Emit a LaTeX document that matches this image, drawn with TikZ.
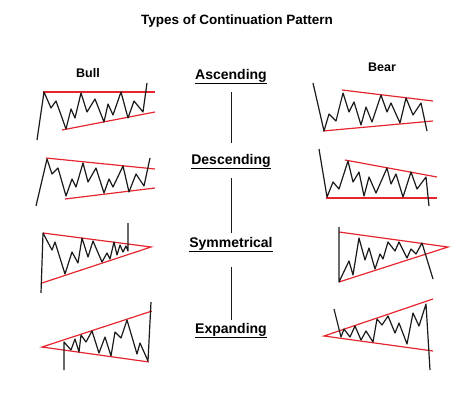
\documentclass[tikz,border=0pt]{standalone}
\usepackage{fontspec}
\setmainfont{Liberation Sans}
\definecolor{trendred}{HTML}{E5262F}
\definecolor{pricedark}{HTML}{1A1A1A}
\tikzset{
  heading/.style={font=\bfseries\fontsize{13.5}{16}\selectfont,anchor=base,inner sep=0pt},
  side/.style={font=\bfseries\fontsize{12.5}{15}\selectfont,anchor=base,inner sep=0pt},
  kind/.style={font=\bfseries\fontsize{14}{17}\selectfont,anchor=base,inner sep=0pt},
  link/.style={line width=1pt,pricedark},
  trend/.style={line width=1.2pt,trendred},
  price/.style={line width=1.2pt,pricedark,line join=round}
}

\begin{document}
\begin{tikzpicture}[x=1pt,y=-1pt]
  \useasboundingbox (0,0) rectangle (474,405);

  \node[heading] (title) at (237,24) {Types of Continuation Pattern};
  \node[side] (bull) at (88,77) {Bull};
  \node[side] (bear) at (382,71) {Bear};

  \node[kind] (asc) at (231,79) {\underline{Ascending}};
  \node[kind] (desc) at (231,164) {\underline{Descending}};
  \node[kind] (sym) at (231,247) {\underline{Symmetrical}};
  \node[kind] (exp) at (231,333) {\underline{Expanding}};

  \draw[link,shorten <=8pt,shorten >=11pt] (asc) -- (desc);
  \draw[link,shorten <=9pt,shorten >=4pt] (desc) -- (sym);
  \draw[link,shorten <=15pt,shorten >=3pt] (sym) -- (exp);

  % ascending
  \draw[trend] (43,92) -- (155,92);
  \draw[trend] (62,130) -- (155,112);
  \draw[price] (37,140) -- (44,92) -- (51,108) -- (56,101) -- (66,129) -- (71,109) -- (75,118) -- (81,93) -- (87,112) -- (95,99) -- (104,122) -- (108,104) -- (113,115) -- (121,92) -- (128,118) -- (134,101) -- (143,112) -- (147,83);
  \draw[trend] (342,90) -- (433,101);
  \draw[trend] (323,131) -- (433,121);
  \draw[price] (313,83) -- (324,131) -- (329,114) -- (336,121) -- (343,93) -- (349,112) -- (354,102) -- (361,125) -- (366,107) -- (372,122) -- (381,95) -- (387,112) -- (391,103) -- (400,123) -- (406,98) -- (413,115) -- (421,103) -- (427,131);

  % descending
  \draw[trend] (46,158) -- (155,169);
  \draw[trend] (65,199) -- (155,188);
  \draw[price] (36,206) -- (47,159) -- (52,174) -- (58,168) -- (66,196) -- (72,179) -- (76,187) -- (83,163) -- (88,182) -- (96,168) -- (104,193) -- (109,179) -- (113,187) -- (123,166) -- (129,192) -- (136,174) -- (144,186) -- (150,158);
  \draw[trend] (345,160) -- (437,177);
  \draw[trend] (326,198) -- (437,198);
  \draw[price] (319,149) -- (327,197) -- (333,182) -- (339,189) -- (348,161) -- (353,182) -- (359,172) -- (364,196) -- (369,177) -- (376,193) -- (387,168) -- (391,184) -- (396,174) -- (403,197) -- (411,172) -- (417,189) -- (426,177) -- (429,206);

  % symmetrical
  \draw[trend] (43,233) -- (151,247) -- (42,283);
  \draw[price] (41,293) -- (43,233) -- (52,250) -- (55,242) -- (65,274) -- (72,252) -- (78,263) -- (82,238) -- (88,257) -- (93,241) -- (102,262) -- (107,253) -- (110,259) -- (114,242) -- (117,255) -- (120,245) -- (123,252) -- (126,246) -- (128,251) -- (128,223);
  \draw[trend] (339,232) -- (448,247) -- (339,282);
  \draw[price] (339,227) -- (339,282) -- (349,261) -- (353,275) -- (359,238) -- (365,260) -- (369,248) -- (375,269) -- (380,254) -- (383,259) -- (388,242) -- (395,251) -- (399,242) -- (407,258) -- (411,249) -- (416,254) -- (422,243) -- (433,279);

  % expanding
  \draw[trend] (152,311) -- (42,347) -- (149,362);
  \draw[price] (64,370) -- (64,342) -- (71,350) -- (75,339) -- (79,352) -- (81,335) -- (86,342) -- (92,331) -- (99,353) -- (105,337) -- (111,356) -- (115,332) -- (121,338) -- (127,320) -- (137,354) -- (140,343) -- (148,361) -- (151,302);
  \draw[trend] (433,299) -- (324,336) -- (433,351);
  \draw[price] (334,309) -- (341,337) -- (344,329) -- (350,337) -- (355,326) -- (361,340) -- (366,331) -- (373,342) -- (377,319) -- (382,325) -- (388,316) -- (395,333) -- (399,323) -- (407,344) -- (413,313) -- (419,326) -- (426,304) -- (430,370);
\end{tikzpicture}
\end{document}
